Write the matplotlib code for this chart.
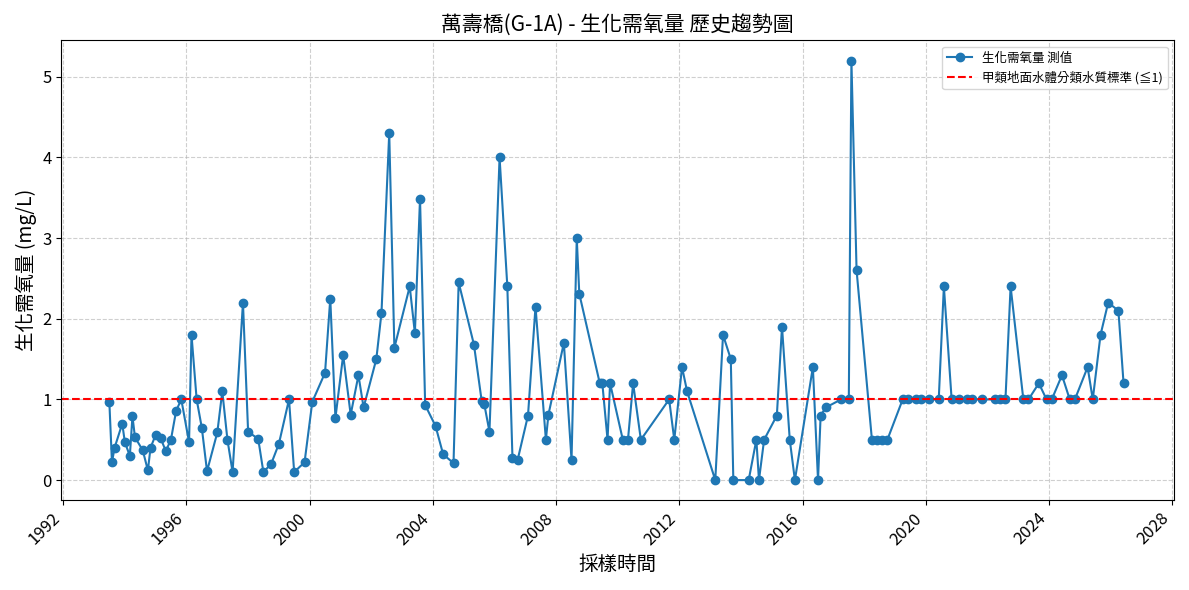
import pandas as pd
import matplotlib
matplotlib.use("Agg")
import matplotlib.pyplot as plt
import matplotlib.dates as mdates

plt.rcParams['font.family'] = ['Noto Sans CJK TC', 'DejaVu Sans']

dates = [
    "1993-07", "1993-08", "1993-09", "1993-12", "1994-01", "1994-03", "1994-04", "1994-05",
    "1994-08", "1994-10", "1994-11", "1995-01", "1995-03", "1995-05", "1995-07", "1995-09",
    "1995-11", "1996-02", "1996-03", "1996-05", "1996-07", "1996-09", "1997-01", "1997-03",
    "1997-05", "1997-07", "1997-11", "1998-01", "1998-05", "1998-07", "1998-10", "1999-01",
    "1999-05", "1999-07", "1999-11", "2000-02", "2000-07", "2000-09", "2000-11", "2001-02",
    "2001-05", "2001-08", "2001-10", "2002-03", "2002-05", "2002-08", "2002-10", "2003-04",
    "2003-06", "2003-08", "2003-10", "2004-02", "2004-05", "2004-09", "2004-11", "2005-05",
    "2005-08", "2005-09", "2005-11", "2006-03", "2006-06", "2006-08", "2006-10", "2007-02",
    "2007-05", "2007-09", "2007-10", "2008-04", "2008-07", "2008-09", "2008-10", "2009-06",
    "2009-07", "2009-09", "2009-10", "2010-03", "2010-05", "2010-07", "2010-10", "2011-09",
    "2011-11", "2012-02", "2012-04", "2013-03", "2013-06", "2013-09", "2013-10", "2014-04",
    "2014-07", "2014-08", "2014-10", "2015-03", "2015-05", "2015-08", "2015-10", "2016-05",
    "2016-07", "2016-08", "2016-10", "2017-04", "2017-07", "2017-08", "2017-10", "2018-04",
    "2018-06", "2018-08", "2018-10", "2019-04", "2019-06", "2019-09", "2019-11", "2020-02",
    "2020-06", "2020-08", "2020-11", "2021-02", "2021-05", "2021-07", "2021-11", "2022-04",
    "2022-06", "2022-08", "2022-10", "2023-03", "2023-05", "2023-09", "2023-12", "2024-02",
    "2024-06", "2024-09", "2024-11", "2025-04", "2025-06", "2025-09", "2025-12", "2026-04",
    "2026-06",
]

bod = [
    0.97, 0.22, 0.4, 0.7, 0.47, 0.3, 0.79, 0.53,
    0.37, 0.12, 0.4, 0.56, 0.52, 0.36, 0.5, 0.86,
    1.0, 0.47, 1.8, 1.0, 0.65, 0.11, 0.59, 1.1,
    0.5, 0.1, 2.2, 0.6, 0.51, 0.1, 0.2, 0.45,
    1.0, 0.1, 0.22, 0.97, 1.33, 2.25, 0.77, 1.55,
    0.81, 1.3, 0.9, 1.5, 2.07, 4.3, 1.64, 2.4,
    1.82, 3.49, 0.93, 0.67, 0.32, 0.21, 2.45, 1.68,
    0.98, 0.94, 0.6, 4.0, 2.4, 0.27, 0.25, 0.8,
    2.15, 0.5, 0.81, 1.7, 0.25, 3.0, 2.31, 1.2,
    1.2, 0.5, 1.2, 0.5, 0.5, 1.2, 0.5, 1.0,
    0.5, 1.4, 1.1, 0.0, 1.8, 1.5, 0.0, 0.0,
    0.5, 0.0, 0.5, 0.8, 1.9, 0.5, 0.0, 1.4,
    0.0, 0.8, 0.9, 1.0, 1.0, 5.2, 2.6, 0.5,
    0.5, 0.5, 0.5, 1.0, 1.0, 1.0, 1.0, 1.0,
    1.0, 2.4, 1.0, 1.0, 1.0, 1.0, 1.0, 1.0,
    1.0, 1.0, 2.4, 1.0, 1.0, 1.2, 1.0, 1.0,
    1.3, 1.0, 1.0, 1.4, 1.0, 1.8, 2.2, 2.1,
    1.2,
]

standard = 1.0

x = pd.to_datetime(dates)

fig, ax = plt.subplots(figsize=(11.89, 5.90), dpi=100)
ax.plot(x, bod, marker="o", color="#1f77b4", markersize=6, linewidth=1.5, label="生化需氧量 測值")
ax.axhline(standard, color="red", linestyle="--", linewidth=1.5, label="甲類地面水體分類水質標準 (≦1)")

ax.set_title("萬壽橋(G-1A) - 生化需氧量 歷史趨勢圖", fontsize=15)
ax.set_xlabel("採樣時間", fontsize=14)
ax.set_ylabel("生化需氧量 (mg/L)", fontsize=14)

ax.xaxis.set_major_locator(mdates.YearLocator(4))
ax.xaxis.set_major_formatter(mdates.DateFormatter("%Y"))
ax.set_xlim(pd.Timestamp("1991-12-10"), pd.Timestamp("2028-01-20"))
ax.set_ylim(-0.25, 5.45)
plt.setp(ax.get_xticklabels(), rotation=45, ha="right")
ax.tick_params(labelsize=12)

ax.grid(True, linestyle="--", alpha=0.6)
ax.legend(loc="upper right", fontsize=9)

plt.tight_layout()
plt.savefig("out.png", dpi=100)
